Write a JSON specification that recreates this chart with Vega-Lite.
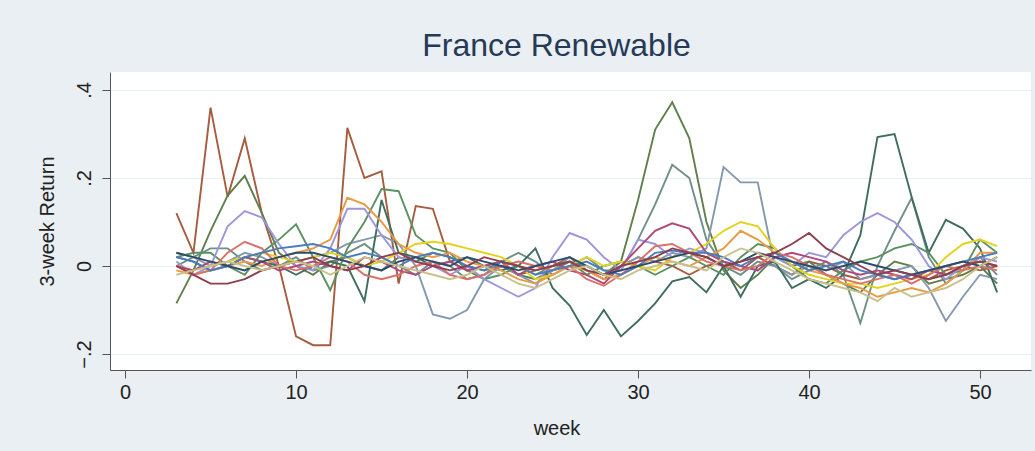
{
"$schema":"https://vega.github.io/schema/vega-lite/v6.json",
"autosize":{"type":"none"},
"width":921,"height":298,
"padding":{"left":110,"top":72,"right":4,"bottom":81},
"background":"#e9eff2",
"title":{"text":"France Renewable","fontSize":32,"font":"Liberation Sans","fontWeight":"normal","color":"#263a58","anchor":"middle","offset":9,"dx":-14},
"config":{"view":{"fill":"white","stroke":null},"font":"Liberation Sans"},
"data":{"values":[
{"s":"s01","w":3,"r":0.12},{"s":"s01","w":4,"r":0.03},{"s":"s01","w":5,"r":0.36},{"s":"s01","w":6,"r":0.157},{"s":"s01","w":7,"r":0.29},{"s":"s01","w":8,"r":0.12},{"s":"s01","w":9,"r":0},{"s":"s01","w":10,"r":-0.16},{"s":"s01","w":11,"r":-0.18},{"s":"s01","w":12,"r":-0.18},{"s":"s01","w":13,"r":0.314},{"s":"s01","w":14,"r":0.2},{"s":"s01","w":15,"r":0.215},{"s":"s01","w":16,"r":-0.04},{"s":"s01","w":17,"r":0.136},{"s":"s01","w":18,"r":0.13},{"s":"s01","w":19,"r":0.01},{"s":"s01","w":20,"r":-0.01},{"s":"s01","w":21,"r":0},{"s":"s01","w":22,"r":0.01},{"s":"s01","w":23,"r":-0.02},{"s":"s01","w":24,"r":-0.01},{"s":"s01","w":25,"r":0},{"s":"s01","w":26,"r":0.02},{"s":"s01","w":27,"r":-0.01},{"s":"s01","w":28,"r":-0.03},{"s":"s01","w":29,"r":0},{"s":"s01","w":30,"r":0.02},{"s":"s01","w":31,"r":0.01},{"s":"s01","w":32,"r":0},{"s":"s01","w":33,"r":-0.02},{"s":"s01","w":34,"r":0},{"s":"s01","w":35,"r":0.01},{"s":"s01","w":36,"r":-0.01},{"s":"s01","w":37,"r":0.02},{"s":"s01","w":38,"r":0},{"s":"s01","w":39,"r":-0.02},{"s":"s01","w":40,"r":0.01},{"s":"s01","w":41,"r":0},{"s":"s01","w":42,"r":-0.02},{"s":"s01","w":43,"r":-0.03},{"s":"s01","w":44,"r":-0.02},{"s":"s01","w":45,"r":-0.03},{"s":"s01","w":46,"r":-0.02},{"s":"s01","w":47,"r":-0.03},{"s":"s01","w":48,"r":-0.01},{"s":"s01","w":49,"r":0},{"s":"s01","w":50,"r":-0.01},{"s":"s01","w":51,"r":0},
{"s":"s02","w":3,"r":-0.085},{"s":"s02","w":4,"r":-0.01},{"s":"s02","w":5,"r":0.08},{"s":"s02","w":6,"r":0.16},{"s":"s02","w":7,"r":0.205},{"s":"s02","w":8,"r":0.12},{"s":"s02","w":9,"r":0.03},{"s":"s02","w":10,"r":0},{"s":"s02","w":11,"r":-0.02},{"s":"s02","w":12,"r":0.01},{"s":"s02","w":13,"r":0.02},{"s":"s02","w":14,"r":0},{"s":"s02","w":15,"r":-0.01},{"s":"s02","w":16,"r":0.02},{"s":"s02","w":17,"r":0.01},{"s":"s02","w":18,"r":0.03},{"s":"s02","w":19,"r":0.02},{"s":"s02","w":20,"r":0},{"s":"s02","w":21,"r":-0.01},{"s":"s02","w":22,"r":0},{"s":"s02","w":23,"r":-0.02},{"s":"s02","w":24,"r":-0.03},{"s":"s02","w":25,"r":-0.01},{"s":"s02","w":26,"r":0.01},{"s":"s02","w":27,"r":0},{"s":"s02","w":28,"r":-0.02},{"s":"s02","w":29,"r":0.01},{"s":"s02","w":30,"r":0.15},{"s":"s02","w":31,"r":0.31},{"s":"s02","w":32,"r":0.372},{"s":"s02","w":33,"r":0.29},{"s":"s02","w":34,"r":0.1},{"s":"s02","w":35,"r":-0.01},{"s":"s02","w":36,"r":-0.05},{"s":"s02","w":37,"r":-0.02},{"s":"s02","w":38,"r":0.02},{"s":"s02","w":39,"r":0},{"s":"s02","w":40,"r":0.01},{"s":"s02","w":41,"r":-0.02},{"s":"s02","w":42,"r":-0.04},{"s":"s02","w":43,"r":-0.06},{"s":"s02","w":44,"r":-0.02},{"s":"s02","w":45,"r":0.01},{"s":"s02","w":46,"r":0},{"s":"s02","w":47,"r":-0.04},{"s":"s02","w":48,"r":-0.03},{"s":"s02","w":49,"r":-0.02},{"s":"s02","w":50,"r":0},{"s":"s02","w":51,"r":-0.04},
{"s":"s03","w":3,"r":0},{"s":"s03","w":4,"r":0.02},{"s":"s03","w":5,"r":0.04},{"s":"s03","w":6,"r":0.04},{"s":"s03","w":7,"r":0.01},{"s":"s03","w":8,"r":-0.01},{"s":"s03","w":9,"r":0},{"s":"s03","w":10,"r":0.02},{"s":"s03","w":11,"r":-0.01},{"s":"s03","w":12,"r":0},{"s":"s03","w":13,"r":0.03},{"s":"s03","w":14,"r":0.05},{"s":"s03","w":15,"r":0.02},{"s":"s03","w":16,"r":0},{"s":"s03","w":17,"r":-0.02},{"s":"s03","w":18,"r":0.01},{"s":"s03","w":19,"r":0},{"s":"s03","w":20,"r":-0.03},{"s":"s03","w":21,"r":-0.02},{"s":"s03","w":22,"r":0.01},{"s":"s03","w":23,"r":0.03},{"s":"s03","w":24,"r":0.01},{"s":"s03","w":25,"r":-0.02},{"s":"s03","w":26,"r":0},{"s":"s03","w":27,"r":0.02},{"s":"s03","w":28,"r":-0.01},{"s":"s03","w":29,"r":-0.01},{"s":"s03","w":30,"r":0.06},{"s":"s03","w":31,"r":0.14},{"s":"s03","w":32,"r":0.23},{"s":"s03","w":33,"r":0.2},{"s":"s03","w":34,"r":0.06},{"s":"s03","w":35,"r":0},{"s":"s03","w":36,"r":-0.02},{"s":"s03","w":37,"r":0.01},{"s":"s03","w":38,"r":0},{"s":"s03","w":39,"r":-0.03},{"s":"s03","w":40,"r":-0.01},{"s":"s03","w":41,"r":0.01},{"s":"s03","w":42,"r":-0.02},{"s":"s03","w":43,"r":-0.13},{"s":"s03","w":44,"r":0},{"s":"s03","w":45,"r":0.08},{"s":"s03","w":46,"r":0.155},{"s":"s03","w":47,"r":0.02},{"s":"s03","w":48,"r":-0.04},{"s":"s03","w":49,"r":-0.01},{"s":"s03","w":50,"r":0.02},{"s":"s03","w":51,"r":-0.02},
{"s":"s04","w":3,"r":0.03},{"s":"s04","w":4,"r":0.02},{"s":"s04","w":5,"r":0},{"s":"s04","w":6,"r":0.01},{"s":"s04","w":7,"r":0.03},{"s":"s04","w":8,"r":0.02},{"s":"s04","w":9,"r":0},{"s":"s04","w":10,"r":0.01},{"s":"s04","w":11,"r":0.02},{"s":"s04","w":12,"r":0.03},{"s":"s04","w":13,"r":0.05},{"s":"s04","w":14,"r":0.06},{"s":"s04","w":15,"r":0.07},{"s":"s04","w":16,"r":0.05},{"s":"s04","w":17,"r":0},{"s":"s04","w":18,"r":-0.11},{"s":"s04","w":19,"r":-0.12},{"s":"s04","w":20,"r":-0.1},{"s":"s04","w":21,"r":-0.03},{"s":"s04","w":22,"r":0},{"s":"s04","w":23,"r":-0.02},{"s":"s04","w":24,"r":-0.04},{"s":"s04","w":25,"r":-0.01},{"s":"s04","w":26,"r":0.02},{"s":"s04","w":27,"r":0},{"s":"s04","w":28,"r":-0.02},{"s":"s04","w":29,"r":0},{"s":"s04","w":30,"r":0.02},{"s":"s04","w":31,"r":0.01},{"s":"s04","w":32,"r":0.03},{"s":"s04","w":33,"r":0.02},{"s":"s04","w":34,"r":0.04},{"s":"s04","w":35,"r":0.225},{"s":"s04","w":36,"r":0.19},{"s":"s04","w":37,"r":0.19},{"s":"s04","w":38,"r":0},{"s":"s04","w":39,"r":-0.02},{"s":"s04","w":40,"r":0},{"s":"s04","w":41,"r":-0.01},{"s":"s04","w":42,"r":0.01},{"s":"s04","w":43,"r":-0.03},{"s":"s04","w":44,"r":-0.02},{"s":"s04","w":45,"r":-0.01},{"s":"s04","w":46,"r":0},{"s":"s04","w":47,"r":-0.05},{"s":"s04","w":48,"r":-0.125},{"s":"s04","w":49,"r":-0.07},{"s":"s04","w":50,"r":-0.02},{"s":"s04","w":51,"r":-0.03},
{"s":"s05","w":3,"r":0.02},{"s":"s05","w":4,"r":0.01},{"s":"s05","w":5,"r":-0.01},{"s":"s05","w":6,"r":0},{"s":"s05","w":7,"r":0.02},{"s":"s05","w":8,"r":0.01},{"s":"s05","w":9,"r":0},{"s":"s05","w":10,"r":-0.02},{"s":"s05","w":11,"r":0},{"s":"s05","w":12,"r":0.01},{"s":"s05","w":13,"r":0},{"s":"s05","w":14,"r":-0.08},{"s":"s05","w":15,"r":0.15},{"s":"s05","w":16,"r":0.03},{"s":"s05","w":17,"r":0.02},{"s":"s05","w":18,"r":0},{"s":"s05","w":19,"r":0.01},{"s":"s05","w":20,"r":0.02},{"s":"s05","w":21,"r":0},{"s":"s05","w":22,"r":-0.01},{"s":"s05","w":23,"r":0},{"s":"s05","w":24,"r":0.04},{"s":"s05","w":25,"r":-0.05},{"s":"s05","w":26,"r":-0.09},{"s":"s05","w":27,"r":-0.157},{"s":"s05","w":28,"r":-0.1},{"s":"s05","w":29,"r":-0.16},{"s":"s05","w":30,"r":-0.125},{"s":"s05","w":31,"r":-0.085},{"s":"s05","w":32,"r":-0.035},{"s":"s05","w":33,"r":-0.025},{"s":"s05","w":34,"r":-0.06},{"s":"s05","w":35,"r":0},{"s":"s05","w":36,"r":-0.07},{"s":"s05","w":37,"r":0},{"s":"s05","w":38,"r":0.01},{"s":"s05","w":39,"r":-0.05},{"s":"s05","w":40,"r":-0.03},{"s":"s05","w":41,"r":-0.05},{"s":"s05","w":42,"r":-0.02},{"s":"s05","w":43,"r":0.07},{"s":"s05","w":44,"r":0.293},{"s":"s05","w":45,"r":0.3},{"s":"s05","w":46,"r":0.157},{"s":"s05","w":47,"r":0.03},{"s":"s05","w":48,"r":0.105},{"s":"s05","w":49,"r":0.085},{"s":"s05","w":50,"r":0.04},{"s":"s05","w":51,"r":-0.06},
{"s":"s06","w":3,"r":0.02},{"s":"s06","w":4,"r":0.03},{"s":"s06","w":5,"r":0.03},{"s":"s06","w":6,"r":0},{"s":"s06","w":7,"r":-0.02},{"s":"s06","w":8,"r":0.03},{"s":"s06","w":9,"r":0.06},{"s":"s06","w":10,"r":0.095},{"s":"s06","w":11,"r":0.02},{"s":"s06","w":12,"r":-0.055},{"s":"s06","w":13,"r":0.04},{"s":"s06","w":14,"r":0.1},{"s":"s06","w":15,"r":0.175},{"s":"s06","w":16,"r":0.17},{"s":"s06","w":17,"r":0.07},{"s":"s06","w":18,"r":0.04},{"s":"s06","w":19,"r":0.03},{"s":"s06","w":20,"r":-0.01},{"s":"s06","w":21,"r":-0.03},{"s":"s06","w":22,"r":-0.02},{"s":"s06","w":23,"r":0},{"s":"s06","w":24,"r":-0.02},{"s":"s06","w":25,"r":0},{"s":"s06","w":26,"r":0.01},{"s":"s06","w":27,"r":-0.02},{"s":"s06","w":28,"r":0},{"s":"s06","w":29,"r":0.01},{"s":"s06","w":30,"r":0},{"s":"s06","w":31,"r":-0.02},{"s":"s06","w":32,"r":0},{"s":"s06","w":33,"r":0.02},{"s":"s06","w":34,"r":0},{"s":"s06","w":35,"r":-0.02},{"s":"s06","w":36,"r":0.02},{"s":"s06","w":37,"r":0.05},{"s":"s06","w":38,"r":0.04},{"s":"s06","w":39,"r":0},{"s":"s06","w":40,"r":-0.03},{"s":"s06","w":41,"r":-0.04},{"s":"s06","w":42,"r":-0.01},{"s":"s06","w":43,"r":0.01},{"s":"s06","w":44,"r":0.02},{"s":"s06","w":45,"r":0.04},{"s":"s06","w":46,"r":0.05},{"s":"s06","w":47,"r":0.03},{"s":"s06","w":48,"r":-0.02},{"s":"s06","w":49,"r":-0.01},{"s":"s06","w":50,"r":0.06},{"s":"s06","w":51,"r":0.03},
{"s":"s07","w":3,"r":0.01},{"s":"s07","w":4,"r":-0.02},{"s":"s07","w":5,"r":0},{"s":"s07","w":6,"r":0.09},{"s":"s07","w":7,"r":0.125},{"s":"s07","w":8,"r":0.11},{"s":"s07","w":9,"r":0.05},{"s":"s07","w":10,"r":0},{"s":"s07","w":11,"r":-0.01},{"s":"s07","w":12,"r":0.04},{"s":"s07","w":13,"r":0.13},{"s":"s07","w":14,"r":0.13},{"s":"s07","w":15,"r":0.07},{"s":"s07","w":16,"r":0.02},{"s":"s07","w":17,"r":0.01},{"s":"s07","w":18,"r":0},{"s":"s07","w":19,"r":-0.02},{"s":"s07","w":20,"r":0},{"s":"s07","w":21,"r":-0.03},{"s":"s07","w":22,"r":-0.05},{"s":"s07","w":23,"r":-0.07},{"s":"s07","w":24,"r":-0.05},{"s":"s07","w":25,"r":0.02},{"s":"s07","w":26,"r":0.075},{"s":"s07","w":27,"r":0.06},{"s":"s07","w":28,"r":0.02},{"s":"s07","w":29,"r":-0.01},{"s":"s07","w":30,"r":0.06},{"s":"s07","w":31,"r":0.05},{"s":"s07","w":32,"r":0.02},{"s":"s07","w":33,"r":0.04},{"s":"s07","w":34,"r":0.03},{"s":"s07","w":35,"r":0.01},{"s":"s07","w":36,"r":0},{"s":"s07","w":37,"r":-0.01},{"s":"s07","w":38,"r":0.02},{"s":"s07","w":39,"r":0},{"s":"s07","w":40,"r":0.03},{"s":"s07","w":41,"r":0.02},{"s":"s07","w":42,"r":0.07},{"s":"s07","w":43,"r":0.1},{"s":"s07","w":44,"r":0.12},{"s":"s07","w":45,"r":0.1},{"s":"s07","w":46,"r":0.06},{"s":"s07","w":47,"r":0},{"s":"s07","w":48,"r":-0.03},{"s":"s07","w":49,"r":0},{"s":"s07","w":50,"r":0.02},{"s":"s07","w":51,"r":0.01},
{"s":"s08","w":3,"r":0},{"s":"s08","w":4,"r":-0.01},{"s":"s08","w":5,"r":0},{"s":"s08","w":6,"r":0.01},{"s":"s08","w":7,"r":0.02},{"s":"s08","w":8,"r":0.03},{"s":"s08","w":9,"r":0.02},{"s":"s08","w":10,"r":0.01},{"s":"s08","w":11,"r":0.02},{"s":"s08","w":12,"r":0.03},{"s":"s08","w":13,"r":0.02},{"s":"s08","w":14,"r":0},{"s":"s08","w":15,"r":0.01},{"s":"s08","w":16,"r":0.03},{"s":"s08","w":17,"r":0.05},{"s":"s08","w":18,"r":0.055},{"s":"s08","w":19,"r":0.05},{"s":"s08","w":20,"r":0.04},{"s":"s08","w":21,"r":0.03},{"s":"s08","w":22,"r":0.02},{"s":"s08","w":23,"r":0},{"s":"s08","w":24,"r":-0.03},{"s":"s08","w":25,"r":-0.02},{"s":"s08","w":26,"r":0},{"s":"s08","w":27,"r":0.02},{"s":"s08","w":28,"r":0},{"s":"s08","w":29,"r":0.01},{"s":"s08","w":30,"r":0},{"s":"s08","w":31,"r":-0.01},{"s":"s08","w":32,"r":0.02},{"s":"s08","w":33,"r":0.03},{"s":"s08","w":34,"r":0.05},{"s":"s08","w":35,"r":0.08},{"s":"s08","w":36,"r":0.1},{"s":"s08","w":37,"r":0.09},{"s":"s08","w":38,"r":0.04},{"s":"s08","w":39,"r":0},{"s":"s08","w":40,"r":-0.02},{"s":"s08","w":41,"r":-0.03},{"s":"s08","w":42,"r":-0.04},{"s":"s08","w":43,"r":-0.04},{"s":"s08","w":44,"r":-0.05},{"s":"s08","w":45,"r":-0.04},{"s":"s08","w":46,"r":-0.03},{"s":"s08","w":47,"r":-0.02},{"s":"s08","w":48,"r":0.02},{"s":"s08","w":49,"r":0.05},{"s":"s08","w":50,"r":0.06},{"s":"s08","w":51,"r":0.045},
{"s":"s09","w":3,"r":-0.01},{"s":"s09","w":4,"r":-0.02},{"s":"s09","w":5,"r":-0.01},{"s":"s09","w":6,"r":0},{"s":"s09","w":7,"r":0.01},{"s":"s09","w":8,"r":0},{"s":"s09","w":9,"r":0.02},{"s":"s09","w":10,"r":0.03},{"s":"s09","w":11,"r":0.04},{"s":"s09","w":12,"r":0.06},{"s":"s09","w":13,"r":0.155},{"s":"s09","w":14,"r":0.14},{"s":"s09","w":15,"r":0.1},{"s":"s09","w":16,"r":0.05},{"s":"s09","w":17,"r":0.03},{"s":"s09","w":18,"r":0.02},{"s":"s09","w":19,"r":0.03},{"s":"s09","w":20,"r":0.01},{"s":"s09","w":21,"r":0},{"s":"s09","w":22,"r":-0.01},{"s":"s09","w":23,"r":-0.03},{"s":"s09","w":24,"r":-0.04},{"s":"s09","w":25,"r":-0.02},{"s":"s09","w":26,"r":0},{"s":"s09","w":27,"r":-0.01},{"s":"s09","w":28,"r":-0.03},{"s":"s09","w":29,"r":-0.02},{"s":"s09","w":30,"r":0},{"s":"s09","w":31,"r":0.02},{"s":"s09","w":32,"r":0.01},{"s":"s09","w":33,"r":0},{"s":"s09","w":34,"r":0.02},{"s":"s09","w":35,"r":0.04},{"s":"s09","w":36,"r":0.08},{"s":"s09","w":37,"r":0.06},{"s":"s09","w":38,"r":0.03},{"s":"s09","w":39,"r":0.01},{"s":"s09","w":40,"r":-0.01},{"s":"s09","w":41,"r":-0.02},{"s":"s09","w":42,"r":-0.04},{"s":"s09","w":43,"r":-0.05},{"s":"s09","w":44,"r":-0.07},{"s":"s09","w":45,"r":-0.06},{"s":"s09","w":46,"r":-0.05},{"s":"s09","w":47,"r":-0.06},{"s":"s09","w":48,"r":-0.04},{"s":"s09","w":49,"r":-0.01},{"s":"s09","w":50,"r":0.03},{"s":"s09","w":51,"r":0.03},
{"s":"s10","w":3,"r":0},{"s":"s10","w":4,"r":-0.01},{"s":"s10","w":5,"r":0.01},{"s":"s10","w":6,"r":0},{"s":"s10","w":7,"r":0.02},{"s":"s10","w":8,"r":0.01},{"s":"s10","w":9,"r":-0.01},{"s":"s10","w":10,"r":0},{"s":"s10","w":11,"r":0.01},{"s":"s10","w":12,"r":0},{"s":"s10","w":13,"r":-0.01},{"s":"s10","w":14,"r":0.02},{"s":"s10","w":15,"r":0.01},{"s":"s10","w":16,"r":-0.01},{"s":"s10","w":17,"r":-0.02},{"s":"s10","w":18,"r":0},{"s":"s10","w":19,"r":0.01},{"s":"s10","w":20,"r":-0.01},{"s":"s10","w":21,"r":0},{"s":"s10","w":22,"r":0.01},{"s":"s10","w":23,"r":-0.02},{"s":"s10","w":24,"r":0},{"s":"s10","w":25,"r":0.01},{"s":"s10","w":26,"r":-0.01},{"s":"s10","w":27,"r":-0.02},{"s":"s10","w":28,"r":-0.04},{"s":"s10","w":29,"r":0},{"s":"s10","w":30,"r":0.04},{"s":"s10","w":31,"r":0.08},{"s":"s10","w":32,"r":0.097},{"s":"s10","w":33,"r":0.085},{"s":"s10","w":34,"r":0.03},{"s":"s10","w":35,"r":0.01},{"s":"s10","w":36,"r":0},{"s":"s10","w":37,"r":-0.01},{"s":"s10","w":38,"r":0.02},{"s":"s10","w":39,"r":0.03},{"s":"s10","w":40,"r":0.02},{"s":"s10","w":41,"r":0.01},{"s":"s10","w":42,"r":-0.01},{"s":"s10","w":43,"r":-0.02},{"s":"s10","w":44,"r":-0.01},{"s":"s10","w":45,"r":-0.02},{"s":"s10","w":46,"r":-0.03},{"s":"s10","w":47,"r":-0.01},{"s":"s10","w":48,"r":-0.02},{"s":"s10","w":49,"r":0},{"s":"s10","w":50,"r":0.01},{"s":"s10","w":51,"r":0},
{"s":"s11","w":3,"r":0},{"s":"s11","w":4,"r":-0.02},{"s":"s11","w":5,"r":-0.01},{"s":"s11","w":6,"r":0.03},{"s":"s11","w":7,"r":0.055},{"s":"s11","w":8,"r":0.04},{"s":"s11","w":9,"r":0},{"s":"s11","w":10,"r":-0.01},{"s":"s11","w":11,"r":0},{"s":"s11","w":12,"r":0.02},{"s":"s11","w":13,"r":0.01},{"s":"s11","w":14,"r":-0.02},{"s":"s11","w":15,"r":-0.03},{"s":"s11","w":16,"r":-0.02},{"s":"s11","w":17,"r":0},{"s":"s11","w":18,"r":0.01},{"s":"s11","w":19,"r":-0.02},{"s":"s11","w":20,"r":-0.03},{"s":"s11","w":21,"r":-0.02},{"s":"s11","w":22,"r":0},{"s":"s11","w":23,"r":0.01},{"s":"s11","w":24,"r":0},{"s":"s11","w":25,"r":-0.01},{"s":"s11","w":26,"r":0},{"s":"s11","w":27,"r":-0.03},{"s":"s11","w":28,"r":-0.045},{"s":"s11","w":29,"r":-0.02},{"s":"s11","w":30,"r":0.01},{"s":"s11","w":31,"r":0.045},{"s":"s11","w":32,"r":0.05},{"s":"s11","w":33,"r":0.03},{"s":"s11","w":34,"r":0.01},{"s":"s11","w":35,"r":0},{"s":"s11","w":36,"r":-0.01},{"s":"s11","w":37,"r":0},{"s":"s11","w":38,"r":0.03},{"s":"s11","w":39,"r":0.02},{"s":"s11","w":40,"r":0},{"s":"s11","w":41,"r":-0.02},{"s":"s11","w":42,"r":-0.03},{"s":"s11","w":43,"r":-0.04},{"s":"s11","w":44,"r":-0.03},{"s":"s11","w":45,"r":-0.02},{"s":"s11","w":46,"r":-0.04},{"s":"s11","w":47,"r":-0.02},{"s":"s11","w":48,"r":0},{"s":"s11","w":49,"r":-0.01},{"s":"s11","w":50,"r":0},{"s":"s11","w":51,"r":-0.01},
{"s":"s12","w":3,"r":0.02},{"s":"s12","w":4,"r":0.01},{"s":"s12","w":5,"r":-0.01},{"s":"s12","w":6,"r":0},{"s":"s12","w":7,"r":0.02},{"s":"s12","w":8,"r":0.03},{"s":"s12","w":9,"r":0.04},{"s":"s12","w":10,"r":0.045},{"s":"s12","w":11,"r":0.05},{"s":"s12","w":12,"r":0.04},{"s":"s12","w":13,"r":0.02},{"s":"s12","w":14,"r":0.03},{"s":"s12","w":15,"r":0.02},{"s":"s12","w":16,"r":0},{"s":"s12","w":17,"r":0.02},{"s":"s12","w":18,"r":0.03},{"s":"s12","w":19,"r":0.02},{"s":"s12","w":20,"r":0},{"s":"s12","w":21,"r":-0.01},{"s":"s12","w":22,"r":0.01},{"s":"s12","w":23,"r":0},{"s":"s12","w":24,"r":-0.02},{"s":"s12","w":25,"r":-0.01},{"s":"s12","w":26,"r":0},{"s":"s12","w":27,"r":0.01},{"s":"s12","w":28,"r":-0.01},{"s":"s12","w":29,"r":-0.02},{"s":"s12","w":30,"r":0},{"s":"s12","w":31,"r":0.03},{"s":"s12","w":32,"r":0.035},{"s":"s12","w":33,"r":0.03},{"s":"s12","w":34,"r":0.03},{"s":"s12","w":35,"r":0.02},{"s":"s12","w":36,"r":0},{"s":"s12","w":37,"r":0.02},{"s":"s12","w":38,"r":0.03},{"s":"s12","w":39,"r":0.01},{"s":"s12","w":40,"r":-0.01},{"s":"s12","w":41,"r":0},{"s":"s12","w":42,"r":0.01},{"s":"s12","w":43,"r":-0.01},{"s":"s12","w":44,"r":-0.02},{"s":"s12","w":45,"r":-0.03},{"s":"s12","w":46,"r":-0.02},{"s":"s12","w":47,"r":-0.01},{"s":"s12","w":48,"r":0},{"s":"s12","w":49,"r":0.01},{"s":"s12","w":50,"r":0.02},{"s":"s12","w":51,"r":0.03},
{"s":"s13","w":3,"r":0.03},{"s":"s13","w":4,"r":0.02},{"s":"s13","w":5,"r":0.01},{"s":"s13","w":6,"r":0},{"s":"s13","w":7,"r":-0.01},{"s":"s13","w":8,"r":0.01},{"s":"s13","w":9,"r":0.02},{"s":"s13","w":10,"r":0.03},{"s":"s13","w":11,"r":0.03},{"s":"s13","w":12,"r":0.02},{"s":"s13","w":13,"r":0.01},{"s":"s13","w":14,"r":0},{"s":"s13","w":15,"r":-0.01},{"s":"s13","w":16,"r":0.01},{"s":"s13","w":17,"r":0.02},{"s":"s13","w":18,"r":0.01},{"s":"s13","w":19,"r":0},{"s":"s13","w":20,"r":0.02},{"s":"s13","w":21,"r":0.01},{"s":"s13","w":22,"r":0},{"s":"s13","w":23,"r":-0.01},{"s":"s13","w":24,"r":0},{"s":"s13","w":25,"r":0.01},{"s":"s13","w":26,"r":0.02},{"s":"s13","w":27,"r":0},{"s":"s13","w":28,"r":-0.02},{"s":"s13","w":29,"r":-0.01},{"s":"s13","w":30,"r":0},{"s":"s13","w":31,"r":0.01},{"s":"s13","w":32,"r":0.02},{"s":"s13","w":33,"r":0.03},{"s":"s13","w":34,"r":0.02},{"s":"s13","w":35,"r":0},{"s":"s13","w":36,"r":0.01},{"s":"s13","w":37,"r":0.03},{"s":"s13","w":38,"r":0.02},{"s":"s13","w":39,"r":0.01},{"s":"s13","w":40,"r":0},{"s":"s13","w":41,"r":-0.01},{"s":"s13","w":42,"r":0},{"s":"s13","w":43,"r":0.01},{"s":"s13","w":44,"r":0},{"s":"s13","w":45,"r":-0.01},{"s":"s13","w":46,"r":-0.02},{"s":"s13","w":47,"r":-0.01},{"s":"s13","w":48,"r":0},{"s":"s13","w":49,"r":0.01},{"s":"s13","w":50,"r":0},{"s":"s13","w":51,"r":0.02},
{"s":"s14","w":3,"r":0},{"s":"s14","w":4,"r":-0.02},{"s":"s14","w":5,"r":-0.04},{"s":"s14","w":6,"r":-0.04},{"s":"s14","w":7,"r":-0.03},{"s":"s14","w":8,"r":-0.01},{"s":"s14","w":9,"r":0},{"s":"s14","w":10,"r":0.01},{"s":"s14","w":11,"r":0.02},{"s":"s14","w":12,"r":0},{"s":"s14","w":13,"r":-0.01},{"s":"s14","w":14,"r":0},{"s":"s14","w":15,"r":0.02},{"s":"s14","w":16,"r":0.03},{"s":"s14","w":17,"r":0.01},{"s":"s14","w":18,"r":0},{"s":"s14","w":19,"r":-0.01},{"s":"s14","w":20,"r":0},{"s":"s14","w":21,"r":0.02},{"s":"s14","w":22,"r":0.01},{"s":"s14","w":23,"r":0},{"s":"s14","w":24,"r":-0.01},{"s":"s14","w":25,"r":0},{"s":"s14","w":26,"r":0.01},{"s":"s14","w":27,"r":-0.01},{"s":"s14","w":28,"r":-0.02},{"s":"s14","w":29,"r":0},{"s":"s14","w":30,"r":0.01},{"s":"s14","w":31,"r":0.02},{"s":"s14","w":32,"r":0.04},{"s":"s14","w":33,"r":0.03},{"s":"s14","w":34,"r":0.02},{"s":"s14","w":35,"r":0},{"s":"s14","w":36,"r":0.01},{"s":"s14","w":37,"r":0.02},{"s":"s14","w":38,"r":0.03},{"s":"s14","w":39,"r":0.05},{"s":"s14","w":40,"r":0.075},{"s":"s14","w":41,"r":0.04},{"s":"s14","w":42,"r":0.02},{"s":"s14","w":43,"r":0},{"s":"s14","w":44,"r":-0.02},{"s":"s14","w":45,"r":-0.01},{"s":"s14","w":46,"r":-0.02},{"s":"s14","w":47,"r":-0.03},{"s":"s14","w":48,"r":-0.02},{"s":"s14","w":49,"r":0},{"s":"s14","w":50,"r":0.01},{"s":"s14","w":51,"r":0},
{"s":"s15","w":3,"r":-0.02},{"s":"s15","w":4,"r":-0.01},{"s":"s15","w":5,"r":0},{"s":"s15","w":6,"r":0.01},{"s":"s15","w":7,"r":0},{"s":"s15","w":8,"r":-0.01},{"s":"s15","w":9,"r":0},{"s":"s15","w":10,"r":0.01},{"s":"s15","w":11,"r":0},{"s":"s15","w":12,"r":-0.02},{"s":"s15","w":13,"r":0},{"s":"s15","w":14,"r":0.02},{"s":"s15","w":15,"r":0.01},{"s":"s15","w":16,"r":0},{"s":"s15","w":17,"r":-0.01},{"s":"s15","w":18,"r":-0.02},{"s":"s15","w":19,"r":-0.03},{"s":"s15","w":20,"r":-0.02},{"s":"s15","w":21,"r":0},{"s":"s15","w":22,"r":-0.02},{"s":"s15","w":23,"r":-0.04},{"s":"s15","w":24,"r":-0.05},{"s":"s15","w":25,"r":-0.03},{"s":"s15","w":26,"r":-0.01},{"s":"s15","w":27,"r":0},{"s":"s15","w":28,"r":-0.02},{"s":"s15","w":29,"r":-0.03},{"s":"s15","w":30,"r":-0.01},{"s":"s15","w":31,"r":0},{"s":"s15","w":32,"r":0.01},{"s":"s15","w":33,"r":0},{"s":"s15","w":34,"r":-0.01},{"s":"s15","w":35,"r":0.02},{"s":"s15","w":36,"r":0.04},{"s":"s15","w":37,"r":0.03},{"s":"s15","w":38,"r":0.01},{"s":"s15","w":39,"r":-0.01},{"s":"s15","w":40,"r":-0.03},{"s":"s15","w":41,"r":-0.04},{"s":"s15","w":42,"r":-0.05},{"s":"s15","w":43,"r":-0.06},{"s":"s15","w":44,"r":-0.08},{"s":"s15","w":45,"r":-0.05},{"s":"s15","w":46,"r":-0.07},{"s":"s15","w":47,"r":-0.06},{"s":"s15","w":48,"r":-0.05},{"s":"s15","w":49,"r":-0.03},{"s":"s15","w":50,"r":0},{"s":"s15","w":51,"r":0.02}
]},
"mark":{"type":"line","strokeWidth":1.9,"clip":true},
"encoding":{
"x":{"field":"w","type":"quantitative","title":"week","scale":{"domain":[-0.88,52.98],"nice":false,"zero":false},
"axis":{"values":[0,10,20,30,40,50],"grid":false,"domainColor":"#555555","tickColor":"#555555","tickSize":8,"labelFontSize":20,"labelColor":"#222222","labelPadding":4,"titleFontSize":20,"titleFontWeight":"normal","titleColor":"#222222","titlePadding":16,"titleX":{"expr":"width/2-14"}}},
"y":{"field":"r","type":"quantitative","title":"3-week Return","scale":{"domain":[-0.2364,0.4409],"nice":false,"zero":false},
"axis":{"values":[-0.2,0,0.2,0.4],"labelExpr":"datum.value == 0 ? '0' : replace(format(datum.value, '.1f'), '0.', '.')","labelAngle":-90,"labelAlign":"center","labelBaseline":"bottom","grid":true,"gridColor":"#e9eff2","gridWidth":1.2,"domainColor":"#555555","tickColor":"#555555","tickSize":8,"labelFontSize":20,"labelColor":"#222222","labelPadding":8,"titleFontSize":20,"titleFontWeight":"normal","titleColor":"#222222","titlePadding":17}},
"color":{"field":"s","type":"nominal","legend":null,"scale":{"domain":["s01","s02","s03","s04","s05","s06","s07","s08","s09","s10","s11","s12","s13","s14","s15"],"range":["#a65c3e","#617f4c","#6f9089","#8499ad","#3f6d60","#5c9162","#9c96dc","#e3d21e","#e99a44","#b0487a","#d9706a","#4a7cc0","#2c4c6c","#8d3f4d","#c9c08a"]}}
}
}
